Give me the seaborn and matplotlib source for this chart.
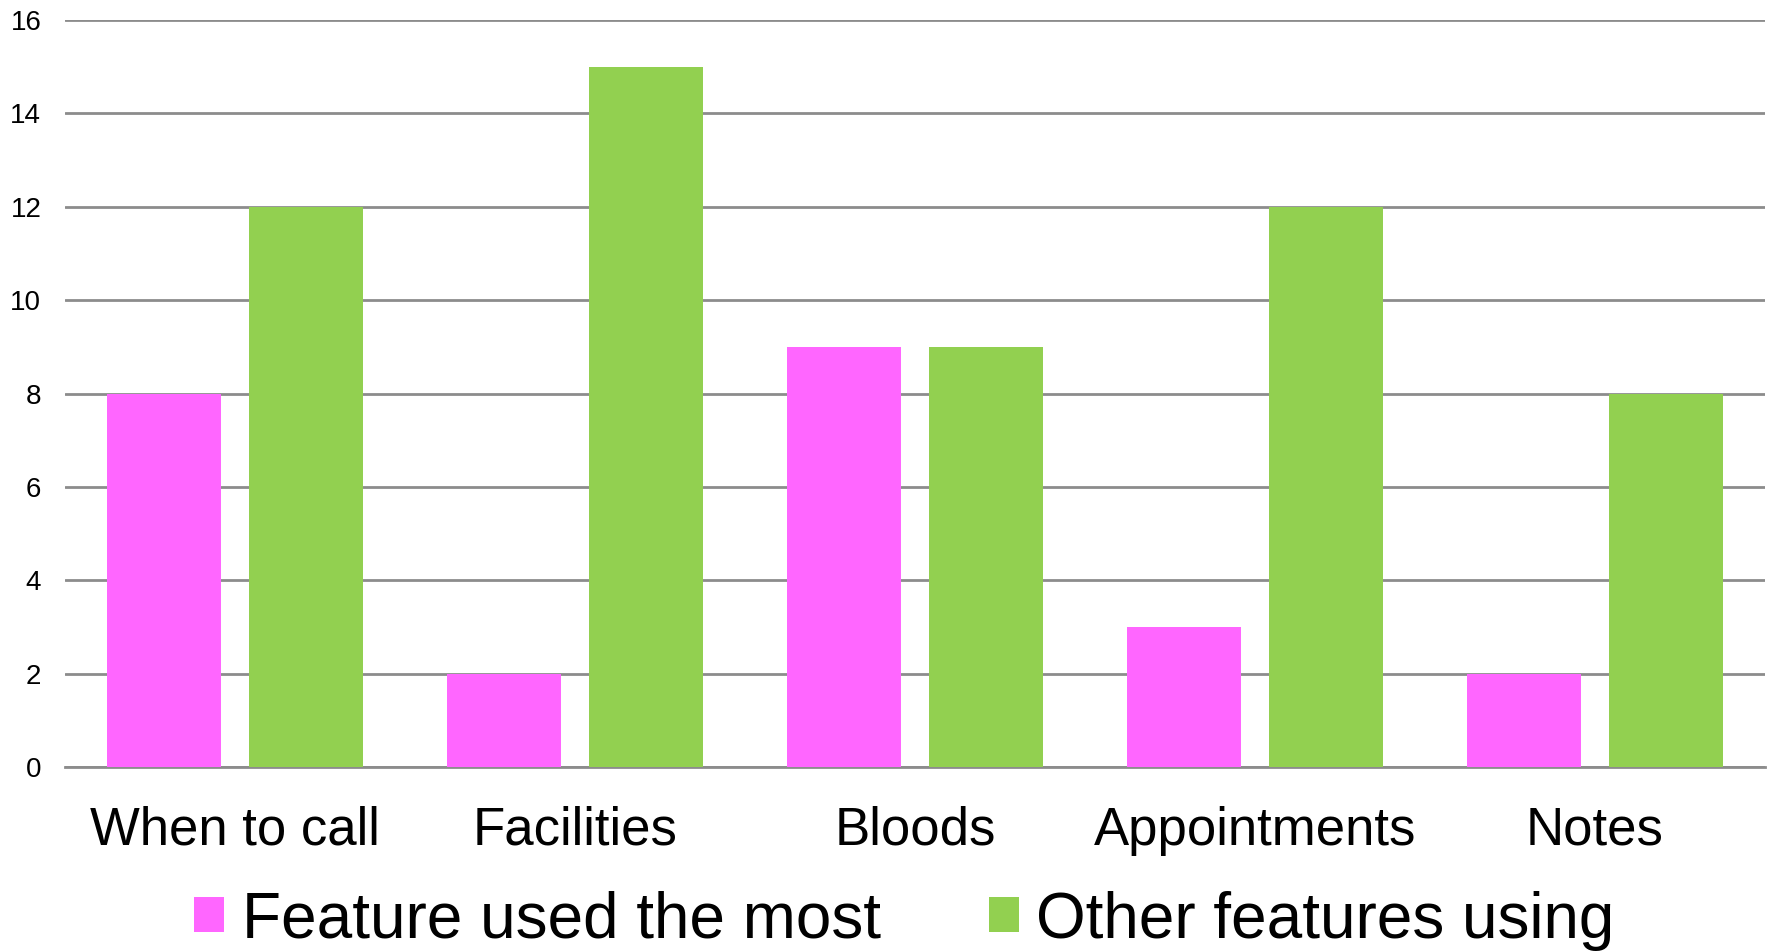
import matplotlib
matplotlib.use("Agg")
import matplotlib.pyplot as plt
import seaborn as sns
import pandas as pd

categories = ["When to call", "Facilities", "Bloods", "Appointments", "Notes"]
series_names = ["Feature used the most", "Other features using"]
used_most = [8, 2, 9, 3, 2]
other_features = [12, 15, 9, 12, 8]
y_ticks = [0, 2, 4, 6, 8, 10, 12, 14, 16]
colors = ["#FF66FF", "#92D050"]

df = pd.DataFrame({
    "category": categories * 2,
    "series": [series_names[0]] * len(categories) + [series_names[1]] * len(categories),
    "value": used_most + other_features,
})

sns.set_theme(style="white")
plt.rcParams["font.family"] = ["Liberation Sans", "DejaVu Sans"]
plt.rcParams["text.color"] = "black"

fig = plt.figure(figsize=(17.7, 9.52), dpi=100)
ax = fig.add_axes([0.0367, 0.1943, 0.9603, 0.7847])

sns.barplot(data=df, x="category", y="value", hue="series", order=categories,
            hue_order=series_names, palette=colors, saturation=1,
            width=0.836, gap=0.2, linewidth=0, ax=ax, zorder=3)

ax.set_ylim(0, 16)
ax.set_xlim(-0.5, len(categories) - 0.5)
ax.set_yticks(y_ticks)
ax.set_yticklabels([str(t) for t in y_ticks], fontsize=20, color="black")
ax.tick_params(axis="y", length=0, pad=17)
ax.tick_params(axis="x", length=0, pad=28, labelsize=38, labelcolor="black")
ax.set_xlabel("")
ax.set_ylabel("")
ax.yaxis.grid(True, color="#8c8c8c", linewidth=2, zorder=0)
ax.set_axisbelow(True)
for side in ["left", "right", "top"]:
    ax.spines[side].set_visible(False)
ax.spines["bottom"].set_color("#8c8c8c")
ax.spines["bottom"].set_linewidth(2)

handles, labels = ax.get_legend_handles_labels()
ax.legend_.remove()
leg = fig.legend(handles, labels, loc="center", bbox_to_anchor=(0.511, 0.033),
                 ncol=2, frameon=False, fontsize=46, handlelength=0.47,
                 handleheight=0.47, handletextpad=0.27, columnspacing=1.7,
                 borderpad=0, borderaxespad=0)
for t in leg.get_texts():
    t.set_color("black")

fig.savefig("out.png", dpi=100)
